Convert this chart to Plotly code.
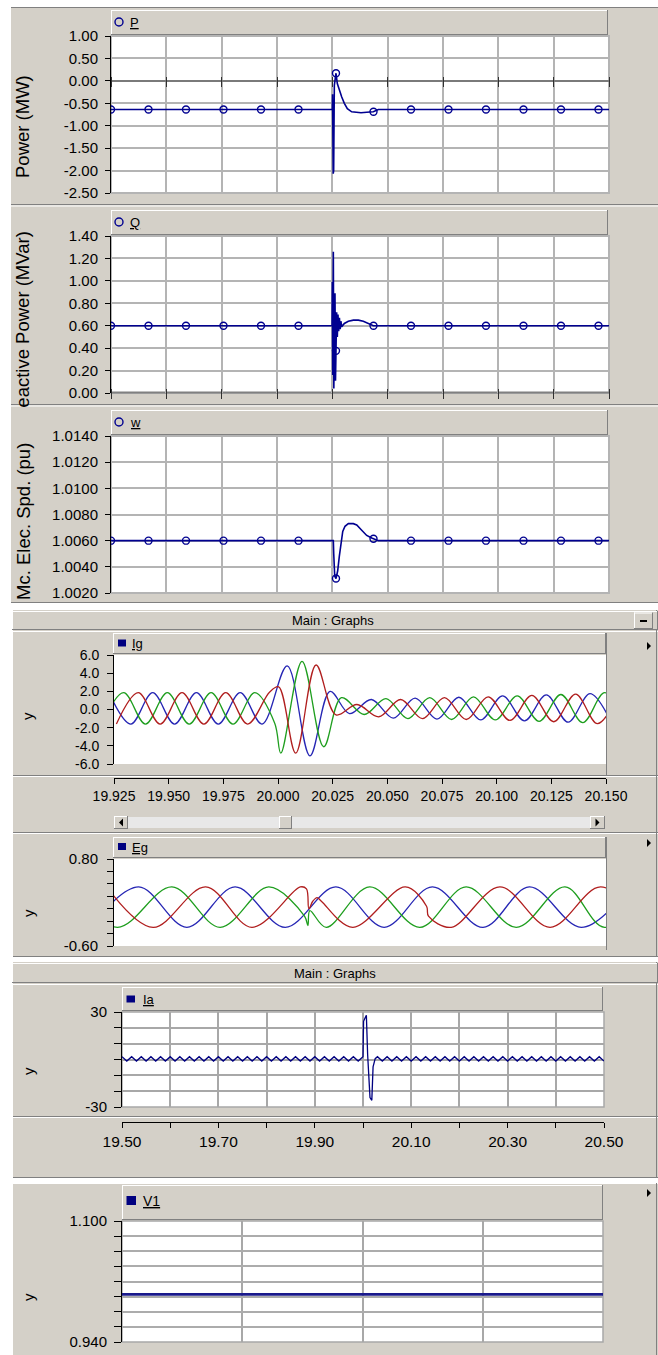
import numpy as np
import plotly.graph_objects as go

# ============================== DATA ==============================
# Panels P, Q, w : common (unlabelled) time axis, in grid divisions 0..9
p_t = [0.0, 4.000, 4.004, 4.016, 4.024, 4.036, 4.048, 4.066, 4.090, 4.126, 4.170,
       4.217, 4.271, 4.350, 4.441, 4.518, 4.621, 4.741, 4.831, 9.0]
p_v = [-0.64, -0.64, -0.30, -2.07, -2.00, -0.10, 0.08, 0.17, -0.06, -0.21, -0.36,
       -0.50, -0.62, -0.69, -0.71, -0.71, -0.70, -0.69, -0.64, -0.64]

q_t = [0.0, 3.995, 4.000, 4.007, 4.018, 4.027, 4.048, 4.057, 4.066, 4.078, 4.090,
       4.102, 4.115, 4.128, 4.142, 4.155, 4.170, 4.217, 4.289, 4.380, 4.470, 4.560,
       4.651, 4.741, 4.831, 9.0]
q_v = [0.60, 0.60, 0.99, 0.16, 1.26, 0.04, 0.89, 0.11, 0.37, 0.72, 0.50,
       0.70, 0.55, 0.67, 0.57, 0.64, 0.59, 0.62, 0.64, 0.65, 0.65, 0.64,
       0.62, 0.60, 0.60, 0.60]

w_t = [0.0, 4.018, 4.025, 4.043, 4.066, 4.097, 4.126, 4.157, 4.188, 4.229, 4.289,
       4.379, 4.441, 4.531, 4.621, 4.712, 4.831, 9.0]
w_v = [1.0060, 1.0060, 1.0050, 1.0033, 1.0031, 1.0037, 1.0048, 1.0059, 1.0067, 1.0071,
       1.0073, 1.0073, 1.0072, 1.0068, 1.0064, 1.0062, 1.0060, 1.0060]

p_yticks = [-2.5, -2.0, -1.5, -1.0, -0.5, 0.0, 0.5, 1.0]
p_ylabels = ['-2.50', '-2.00', '-1.50', '-1.00', '-0.50', '0.00', '0.50', '1.00']
q_yticks = [0.0, 0.2, 0.4, 0.6, 0.8, 1.0, 1.2, 1.4]
q_ylabels = ['0.00', '0.20', '0.40', '0.60', '0.80', '1.00', '1.20', '1.40']
w_yticks = [1.002, 1.004, 1.006, 1.008, 1.010, 1.012, 1.014]
w_ylabels = ['1.0020', '1.0040', '1.0060', '1.0080', '1.0100', '1.0120', '1.0140']

# Ig : three-phase current, extrema (time s, value)
ig_blue_t = [19.9227, 19.9327, 19.9427, 19.9527, 19.9627, 19.9727, 19.9827, 19.9927,
             20.0042, 20.0146, 20.0238, 20.0327, 20.0427, 20.0527, 20.0627, 20.0727,
             20.0827, 20.0927, 20.1027, 20.1127, 20.1227, 20.1327, 20.1427, 20.1527]
ig_blue_v = [1.85, -1.60, 1.85, -1.60, 1.85, -1.60, 1.85, -1.60,
             4.80, -5.10, 2.00, -0.45, 1.10, -0.95, 1.25, -1.05,
             1.35, -1.15, 1.50, -1.25, 1.60, -1.40, 1.75, -1.55]
ig_green_t = [19.9194, 19.9294, 19.9394, 19.9494, 19.9594, 19.9694, 19.9794, 19.9894,
              19.9985, 20.0013, 20.0110, 20.0209, 20.0290, 20.0394, 20.0494, 20.0594,
              20.0694, 20.0794, 20.0894, 20.0994, 20.1094, 20.1194, 20.1294, 20.1394,
              20.1494, 20.1594]
ig_green_v = [-1.60, 1.85, -1.60, 1.85, -1.60, 1.85, -1.60, 1.85,
              -1.50, -4.80, 5.30, -4.10, 1.30, -0.55, 1.20, -1.00,
              1.30, -1.10, 1.40, -1.15, 1.50, -1.30, 1.65, -1.45,
              1.85, -1.60]
ig_red_t = [19.9261, 19.9361, 19.9461, 19.9561, 19.9661, 19.9761, 19.9861, 19.9961,
            20.0003, 20.0081, 20.0174, 20.0265, 20.0361, 20.0461, 20.0561, 20.0661,
            20.0761, 20.0861, 20.0961, 20.1061, 20.1161, 20.1261, 20.1361, 20.1461,
            20.1561]
ig_red_v = [-1.60, 1.85, -1.60, 1.85, -1.60, 1.85, -1.60, 1.90,
            2.50, -4.80, 4.90, -0.60, 0.55, -0.80, 1.10, -1.00,
            1.30, -1.10, 1.40, -1.20, 1.55, -1.35, 1.70, -1.55,
            1.85]
ig_yticks = [-6, -4, -2, 0, 2, 4, 6]
ig_ylabels = ['-6.0', '-4.0', '-2.0', '0.0', '2.0', '4.0', '6.0']
ig_xticks = [19.925, 19.950, 19.975, 20.000, 20.025, 20.050, 20.075, 20.100, 20.125, 20.150]
ig_xlabels = ['19.925', '19.950', '19.975', '20.000', '20.025', '20.050', '20.075',
              '20.100', '20.125', '20.150']

# Eg : three-phase voltage, extrema (time s, value)
eg_blue_t = [19.9550, 19.9651, 19.9751, 19.9851, 19.9955, 20.0060, 20.0160, 20.0260,
             20.0365, 20.0461, 20.0569, 20.0670]
eg_blue_v = [-0.30, 0.35, -0.30, 0.35, -0.30, 0.35, -0.30, 0.35, -0.30, 0.35, -0.30, 0.35]
eg_green_t = [19.9502, 19.9607, 19.9720, 19.9820, 19.9921, 19.9995, 20.0002, 20.0006,
              20.0040, 20.0130, 20.0234, 20.0330, 20.0434, 20.0535, 20.0617, 20.0720]
eg_green_v = [0.35, -0.30, 0.35, -0.30, 0.35, -0.12, -0.27, -0.03,
              -0.30, 0.35, -0.30, 0.35, -0.30, 0.35, -0.30, 0.35]
eg_red_t = [19.9585, 19.9681, 19.9790, 19.9886, 19.9986, 19.9999, 20.0004, 20.0012,
            20.0021, 20.0030, 20.0095, 20.0204, 20.0248, 20.0252, 20.0299, 20.0400,
            20.0504, 20.0609, 20.0710]
eg_red_v = [0.35, -0.30, 0.35, -0.30, 0.35, 0.32, 0.00, 0.12,
            0.18, 0.12, -0.30, 0.35, 0.04, -0.12, -0.30, 0.35,
            -0.30, 0.35, -0.30]
eg_yticks = [-0.6, -0.4, -0.2, 0.0, 0.2, 0.4, 0.6, 0.8]
eg_ylabels = ['-0.60', '', '', '', '', '', '', '0.80']

# Ia : current with small ripple and a fault spike
ia_pre_t = [19.50, 19.51, 19.52, 19.53, 19.54, 19.55, 19.56, 19.57, 19.58, 19.59,
            19.60, 19.61, 19.62, 19.63, 19.64, 19.65, 19.66, 19.67, 19.68, 19.69,
            19.70, 19.71, 19.72, 19.73, 19.74, 19.75, 19.76, 19.77, 19.78, 19.79,
            19.80, 19.81, 19.82, 19.83, 19.84, 19.85, 19.86, 19.87, 19.88, 19.89,
            19.90, 19.91, 19.92, 19.93, 19.94, 19.95, 19.96, 19.97, 19.98, 19.99,
            20.00]
ia_pre_v = [1.8, -1.0, 1.8, -1.0, 1.8, -1.0, 1.8, -1.0, 1.8, -1.0,
            1.8, -1.0, 1.8, -1.0, 1.8, -1.0, 1.8, -1.0, 1.8, -1.0,
            1.8, -1.0, 1.8, -1.0, 1.8, -1.0, 1.8, -1.0, 1.8, -1.0,
            1.8, -1.0, 1.8, -1.0, 1.8, -1.0, 1.8, -1.0, 1.8, -1.0,
            1.8, -1.0, 1.8, -1.0, 1.8, -1.0, 1.8, -1.0, 1.8, -1.0,
            1.8]
ia_spike_t = [20.0012, 20.0040, 20.0070, 20.0096, 20.0125, 20.0145, 20.0183, 20.0209, 20.0253]
ia_spike_v = [24.1, 26.0, 27.9, 3.1, -19.5, -24.0, -25.8, -4.7, 0.5]
ia_post_t = [20.03, 20.04, 20.05, 20.06, 20.07, 20.08, 20.09,
             20.10, 20.11, 20.12, 20.13, 20.14, 20.15, 20.16, 20.17, 20.18, 20.19,
             20.20, 20.21, 20.22, 20.23, 20.24, 20.25, 20.26, 20.27, 20.28, 20.29,
             20.30, 20.31, 20.32, 20.33, 20.34, 20.35, 20.36, 20.37, 20.38, 20.39,
             20.40, 20.41, 20.42, 20.43, 20.44, 20.45, 20.46, 20.47, 20.48, 20.49,
             20.50]
ia_post_v = [1.8, -1.0, 1.8, -1.0, 1.8, -1.0, 1.8,
             -1.0, 1.8, -1.0, 1.8, -1.0, 1.8, -1.0, 1.8, -1.0, 1.8,
             -1.0, 1.8, -1.0, 1.8, -1.0, 1.8, -1.0, 1.8, -1.0, 1.8,
             -1.0, 1.8, -1.0, 1.8, -1.0, 1.8, -1.0, 1.8, -1.0, 1.8,
             -1.0, 1.8, -1.0, 1.8, -1.0, 1.8, -1.0, 1.8, -1.0, 1.8,
             -1.0]
ia_yticks = [-30, -20, -10, 0, 10, 20, 30]
ia_ylabels = ['-30', '', '', '', '', '', '30']
ia_xticks = [19.5, 19.6, 19.7, 19.8, 19.9, 20.0, 20.1, 20.2, 20.3, 20.4, 20.5]
ia_xlabels = ['19.50', '', '19.70', '', '19.90', '', '20.10', '', '20.30', '', '20.50']

# V1 : constant voltage
v1_t = [0.0, 4.0]
v1_v = [1.003, 1.003]
v1_yticks = [0.94, 0.96, 0.98, 1.00, 1.02, 1.04, 1.06, 1.08, 1.10]
v1_ylabels = ['0.940', '', '', '', '', '', '', '', '1.100']

# ============================== STYLE / GEOMETRY ==============================
W, H = 658, 1355
FONT = 'Liberation Sans, Arial, sans-serif'
GRAY = '#D4D0C8'
DARK = '#808080'
GRID = '#B4B4B4'
NAVY = '#000090'
C_BLUE, C_RED, C_GREEN = '#2626B4', '#B01E1E', '#1E9E1E'


def X(px):
    return px / W


def Y(py):
    return 1 - py / H


shapes, annotations = [], []


def rect(x0, y0, x1, y1, fill='rgba(0,0,0,0)', lc='rgba(0,0,0,0)', lw=0):
    shapes.append(dict(type='rect', xref='paper', yref='paper', x0=X(x0), x1=X(x1),
                       y0=Y(y1), y1=Y(y0), fillcolor=fill, line=dict(color=lc, width=lw),
                       layer='below'))


def seg(x0, y0, x1, y1, color, w=1):
    shapes.append(dict(type='line', xref='paper', yref='paper', x0=X(x0), y0=Y(y0),
                       x1=X(x1), y1=Y(y1), line=dict(color=color, width=w), layer='below'))


def raised(x0, y0, x1, y1):
    rect(x0, y0, x1, y1, GRAY)
    seg(x0, y0 + 0.5, x1, y0 + 0.5, 'white')
    seg(x0 + 0.5, y0, x0 + 0.5, y1, 'white')
    seg(x0, y1 - 0.5, x1, y1 - 0.5, DARK)
    seg(x1 - 0.5, y0, x1 - 0.5, y1, DARK)


def tri(cx, cy, right=True):
    if right:
        pts = [(cx - 2, cy - 4), (cx + 2, cy), (cx - 2, cy + 4)]
    else:
        pts = [(cx + 2, cy - 4), (cx - 2, cy), (cx + 2, cy + 4)]
    path = 'M{},{} L{},{} L{},{} Z'.format(*[v for p in pts for v in (X(p[0]), Y(p[1]))])
    shapes.append(dict(type='path', xref='paper', yref='paper', path=path,
                       fillcolor='black', line=dict(width=0), layer='below'))


def text(x, y, s, size=13, anchor='left', angle=0):
    annotations.append(dict(xref='paper', yref='paper', x=X(x), y=Y(y), text=s,
                            showarrow=False, xanchor=anchor, yanchor='middle',
                            textangle=angle, font=dict(family=FONT, size=size, color='black')))


# ---- window backgrounds
rect(11, 7, 658, 603, GRAY)
rect(12, 610, 658, 957, GRAY)
rect(12, 962, 658, 1178, GRAY)
rect(12, 1183, 658, 1355, GRAY)

# ---- separators
seg(11, 7.5, 658, 7.5, DARK)
for yy in (204.5, 404.5):
    seg(11, yy, 658, yy, DARK)
    seg(11, yy + 1.5, 658, yy + 1.5, 'white')
seg(11, 602.5, 658, 602.5, DARK)
seg(12, 631.5, 658, 631.5, 'white')
seg(12, 775.5, 658, 775.5, DARK)
seg(12, 776.5, 658, 776.5, 'white')
seg(12, 832.5, 658, 832.5, DARK)
seg(12, 833.5, 658, 833.5, 'white')
seg(12, 956.5, 658, 956.5, DARK)
seg(12, 984.5, 658, 984.5, 'white')
seg(12, 1116.5, 658, 1116.5, DARK)
seg(12, 1117.5, 658, 1117.5, 'white')
seg(12, 1177.5, 658, 1177.5, DARK)
seg(12, 1183.5, 658, 1183.5, 'white')
for y0, y1 in ((610, 957), (962, 1178), (1183, 1355)):
    seg(656.5, y0, 656.5, y1, DARK)
    seg(12.5, y0, 12.5, y1, 'white')

# ---- title bars
raised(12, 611, 658, 630)
raised(634, 612.5, 653, 629)
seg(640, 621, 647, 621, 'black', 2)
raised(12, 963, 658, 983)
text(333, 620.5, 'Main : Graphs', 13, 'center')
text(335, 973, 'Main : Graphs', 13, 'center')

# ---- header (legend) bars
for y0 in (10, 210, 410):
    raised(111, y0, 608, y0 + 25)
raised(113, 633, 606, 654)
raised(113, 837, 606, 858)
raised(122, 987, 603, 1011)
raised(122, 1185, 603, 1220)

# ---- plot areas
plots = {
    'p': (111, 36, 609, 193), 'q': (111, 236, 609, 393), 'w': (111, 436, 609, 593),
    'ig': (114, 655, 606, 764), 'eg': (114, 859, 606, 946),
    'ia': (122, 1012, 604, 1107), 'v1': (122, 1221, 603, 1342),
}
for k, (x0, y0, x1, y1) in plots.items():
    rect(x0, y0, x1, y1, 'white')
for k in ('p', 'q', 'w'):
    x0, y0, x1, y1 = plots[k]
    rect(x0, y0, x1, y1, lc=GRID, lw=2)
for k in ('ia', 'v1'):
    x0, y0, x1, y1 = plots[k]
    rect(x0, y0, x1, y1, lc='#A8A8A8', lw=1.5)
seg(111, 392.5, 609, 392.5, '#808080', 2)
seg(606.5, 633, 606.5, 775, DARK)
seg(606.5, 837, 606.5, 950, DARK)

# ---- scrollbar
rect(128, 817, 590, 828, '#E8E8E8')
raised(114, 816, 128, 829)
raised(590, 816, 605, 829)
raised(279, 816, 292, 829)
tri(121, 822.5, right=False)
tri(597.5, 822.5, right=True)

# ---- small arrows at the right of graph frames
tri(649, 646)
tri(649, 843)
tri(649, 1193)

# ---- legend glyphs + names
for yc, name in ((22, 'P'), (222, 'Q'), (422, 'w')):
    shapes.append(dict(type='circle', xref='paper', yref='paper', x0=X(115), x1=X(123),
                       y0=Y(yc + 4), y1=Y(yc - 4), line=dict(color=NAVY, width=1.4),
                       fillcolor='rgba(0,0,0,0)', layer='below'))
    text(128, yc, '<u>' + name + '</u>', 13)
for (x0, y0, x1, y1), (tx, ty, name) in (
        ((118, 639.5, 126, 646.5), (130, 643.5, 'Ig')),
        ((118, 843, 126, 850), (130, 847, 'Eg')),
        ((126.5, 995.5, 135, 1002.5), (141, 999, 'Ia')),
        ((126.5, 1196, 136, 1205), (141, 1201, 'V1'))):
    rect(x0, y0, x1, y1, '#000080')
    text(tx, ty, '<u>' + name + '</u>', 14 if name == 'V1' else 13)

# ---- axis titles
text(23, 127, 'Power (MW)', 18.5, 'center', -90)
text(23, 326, 'Reactive Power (MVar)', 18.5, 'center', -90)
annotations.append(dict(xref='paper', yref='paper', x=X(12), y=Y(407), xanchor='left',
                        yanchor='top', text=' ', showarrow=False, bgcolor=GRAY,
                        width=26, height=20, borderpad=0, borderwidth=0))
text(23, 522, 'Mc. Elec. Spd. (pu)', 18.5, 'center', -90)
for yy in (716, 913, 1071, 1297):
    text(28, yy, 'y', 15, 'center', -90)

# ============================== FIGURE ==============================
fig = go.Figure()
mk_t = np.arange(0.0, 9.0, 0.6777)


def add_line(x, y, ax, color, width, shape='linear'):
    fig.add_trace(go.Scatter(x=x, y=y, mode='lines', xaxis='x' + ax, yaxis='y' + ax,
                             line=dict(color=color, width=width, shape=shape),
                             hoverinfo='skip', showlegend=False))


for ax, tt, vv in (('', p_t, p_v), ('2', q_t, q_v), ('3', w_t, w_v)):
    add_line(tt, vv, ax, NAVY, 1.6)
    fig.add_trace(go.Scatter(x=mk_t, y=np.interp(mk_t, tt, vv), mode='markers',
                             xaxis='x' + ax, yaxis='y' + ax, hoverinfo='skip', showlegend=False,
                             marker=dict(symbol='circle-open', size=7, color=NAVY,
                                         line=dict(width=1.4, color=NAVY))))

add_line(ig_blue_t, ig_blue_v, '4', C_BLUE, 1.3, 'spline')
add_line(ig_green_t, ig_green_v, '4', C_GREEN, 1.3, 'spline')
add_line(ig_red_t, ig_red_v, '4', C_RED, 1.3, 'spline')
add_line(eg_blue_t, eg_blue_v, '5', C_BLUE, 1.3, 'spline')
add_line(eg_green_t, eg_green_v, '5', C_GREEN, 1.3, 'spline')
add_line(eg_red_t, eg_red_v, '5', C_RED, 1.3, 'spline')
add_line(ia_pre_t + ia_spike_t + ia_post_t, ia_pre_v + ia_spike_v + ia_post_v, '6', '#000080', 1.3)
add_line(v1_t, v1_v, '7', '#1A1A8C', 2.6)


def ydict(key, rng, vals, labels, xa, fs=15, grid=False, gc=GRID, gw=2, zl=False, tl=5, so=4):
    x0, y0, x1, y1 = plots[key]
    return dict(domain=[Y(y1), Y(y0)], range=rng, anchor=xa, tickmode='array', tickvals=vals,
                ticktext=labels, showline=True, linecolor='black', linewidth=1,
                ticks='outside', ticklen=tl, tickcolor='black', tickwidth=1,
                ticklabelstandoff=so, automargin=False,
                tickfont=dict(family=FONT, size=fs, color='black'), showgrid=grid,
                gridcolor=gc, gridwidth=gw, zeroline=zl, zerolinecolor='#7A7A7A',
                zerolinewidth=2, fixedrange=True)


def xdict(key, rng, vals, labels=None, anchor=None, pos=None, ticks='', tl=5, grid=True,
          gc=GRID, gw=2, line=False, fs=14, tc='black'):
    x0, y0, x1, y1 = plots[key]
    d = dict(domain=[X(x0), X(x1)], range=rng, tickmode='array', tickvals=vals,
             showgrid=grid, gridcolor=gc, gridwidth=gw, zeroline=False, ticks=ticks,
             ticklen=tl, tickcolor=tc, tickwidth=1.3, showline=line, linecolor='black',
             linewidth=1, fixedrange=True, automargin=False,
             tickfont=dict(family=FONT, size=fs, color='black'))
    if labels is None:
        d['showticklabels'] = False
    else:
        d['ticktext'] = labels
    if pos is not None:
        d['anchor'] = 'free'
        d['position'] = pos
    else:
        d['anchor'] = anchor
    return d


top_x = list(range(10))
layout = dict(
    width=W, height=H, autosize=False,
    margin=dict(l=0, r=0, t=0, b=0, pad=0, autoexpand=False),
    paper_bgcolor='white', plot_bgcolor='rgba(0,0,0,0)', showlegend=False,
    hovermode=False, shapes=shapes, annotations=annotations,
    font=dict(family=FONT, color='black'),
    xaxis=xdict('p', [0, 9], top_x, pos=Y(75.7), ticks='outside', tl=10, tc='#303030'),
    yaxis=ydict('p', [-2.5, 1.0], p_yticks, p_ylabels, 'x', grid=True, zl=True),
    xaxis2=xdict('q', [0, 9], top_x, pos=Y(387.7), ticks='outside', tl=10, tc='#303030'),
    yaxis2=ydict('q', [0.0, 1.4], q_yticks, q_ylabels, 'x2', grid=True),
    xaxis3=xdict('w', [0, 9], top_x, anchor='y3'),
    yaxis3=ydict('w', [1.002, 1.014], w_yticks, w_ylabels, 'x3', grid=True),
    xaxis4=xdict('ig', [19.925, 20.150], ig_xticks, ig_xlabels, pos=Y(778), ticks='outside',
                 tl=5, grid=False, line=True, fs=14),
    yaxis4=ydict('ig', [-6, 6], ig_yticks, ig_ylabels, 'x4', fs=14, tl=6, so=5),
    xaxis5=xdict('eg', [19.96, 20.062], [], anchor='y5', grid=False),
    yaxis5=ydict('eg', [-0.6, 0.8], eg_yticks, eg_ylabels, 'x5', fs=15, tl=6, so=6),
    xaxis6=xdict('ia', [19.5, 20.5], ia_xticks, ia_xlabels, pos=Y(1122), ticks='outside',
                 tl=5, grid=True, gc='#A8A8A8', gw=1.5, line=True, fs=15.5),
    yaxis6=ydict('ia', [-30, 30], ia_yticks, ia_ylabels, 'x6', fs=15, grid=True,
                 gc='#A8A8A8', gw=1.5, tl=7, so=4),
    xaxis7=xdict('v1', [0, 4], [0, 1, 2, 3, 4], anchor='y7', grid=True, gc='#A8A8A8', gw=1.5),
    yaxis7=ydict('v1', [0.94, 1.10], v1_yticks, v1_ylabels, 'x7', fs=15, grid=True,
                 gc='#ACACAC', gw=2, tl=7, so=4),
)
fig.update_layout(**layout)
fig.write_html('out.html', config={'displayModeBar': False, 'responsive': False},
               post_script="document.body.style.margin='0';"
                           "document.body.style.padding='0';"
                           "document.documentElement.style.overflow='hidden';"
                           "document.body.style.overflow='hidden';")
